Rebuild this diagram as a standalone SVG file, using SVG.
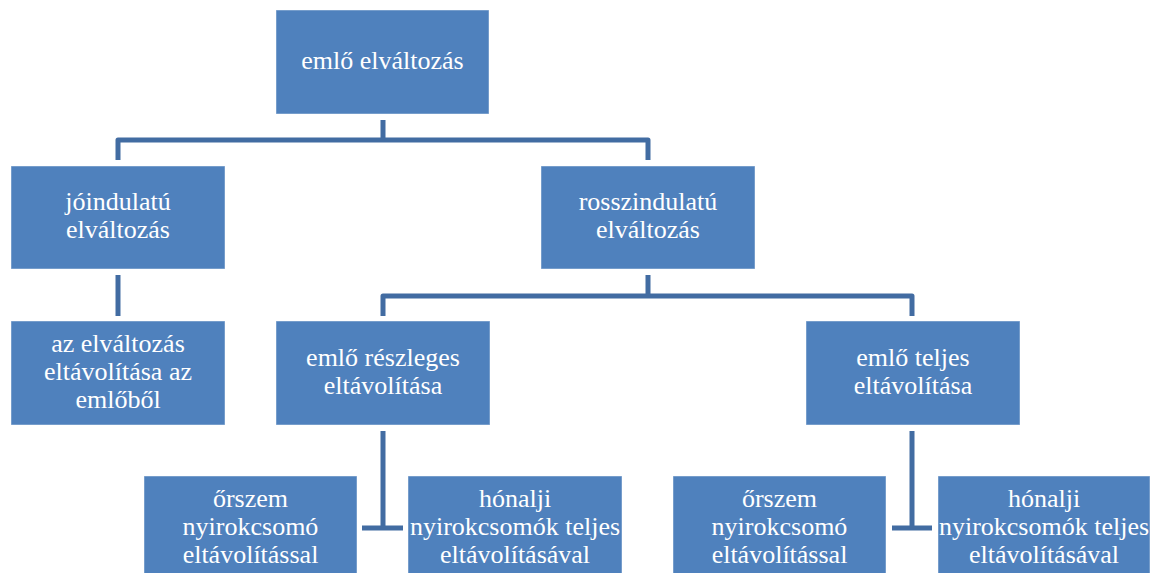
<svg xmlns="http://www.w3.org/2000/svg" width="1154" height="573" viewBox="0 0 1154 573">
<style>
.box{fill:#4F81BD;stroke:#FFFFFF;stroke-opacity:0.45;stroke-width:1}
.t{font-family:'Liberation Serif','Times New Roman',Times,Tinos,'Noto Serif','DejaVu Serif',FreeSerif,serif;font-size:26px;fill:#FFFFFF;text-anchor:middle}
.c{fill:none;stroke:#426CA2;stroke-width:5;stroke-linejoin:round}
</style>
<rect width="1154" height="573" fill="#FFFFFF"/>
<g id="connectors">
<path class="c" d="M383 120V140M118 160V140H648V160"/>
<path class="c" d="M118 275V316"/>
<path class="c" d="M648 275V296M383 316V296H912V316"/>
<path class="c" d="M383 431V528M362 528H403"/>
<path class="c" d="M912 431V528M892 528H932"/>
</g>
<g id="n-root"><rect class="box" x="276" y="10" width="213" height="104"/><text class="t" x="382.5" y="69">emlő elváltozás</text></g>
<g id="n-jo"><rect class="box" x="11" y="166" width="214" height="103"/><text class="t" x="118" y="210">jóindulatú</text><text class="t" x="118" y="238">elváltozás</text></g>
<g id="n-rossz"><rect class="box" x="541" y="166" width="214" height="103"/><text class="t" x="648" y="210">rosszindulatú</text><text class="t" x="648" y="238">elváltozás</text></g>
<g id="n-eltav"><rect class="box" x="11" y="321" width="214" height="104"/><text class="t" x="118" y="352">az elváltozás</text><text class="t" x="118" y="380">eltávolítása az</text><text class="t" x="118" y="408">emlőből</text></g>
<g id="n-reszleges"><rect class="box" x="276" y="321" width="214" height="104"/><text class="t" x="383" y="366">emlő részleges</text><text class="t" x="383" y="394">eltávolítása</text></g>
<g id="n-teljes"><rect class="box" x="806" y="321" width="214" height="104"/><text class="t" x="913" y="366">emlő teljes</text><text class="t" x="913" y="394">eltávolítása</text></g>
<g id="n-orszem1"><rect class="box" x="144" y="476" width="213" height="104"/><text class="t" x="250.5" y="507">őrszem</text><text class="t" x="250.5" y="535">nyirokcsomó</text><text class="t" x="250.5" y="563">eltávolítással</text></g>
<g id="n-honalji1"><rect class="box" x="408" y="476" width="214" height="104"/><text class="t" x="515" y="507">hónalji</text><text class="t" x="515" y="535">nyirokcsomók teljes</text><text class="t" x="515" y="563">eltávolításával</text></g>
<g id="n-orszem2"><rect class="box" x="673" y="476" width="213" height="104"/><text class="t" x="779.5" y="507">őrszem</text><text class="t" x="779.5" y="535">nyirokcsomó</text><text class="t" x="779.5" y="563">eltávolítással</text></g>
<g id="n-honalji2"><rect class="box" x="938" y="476" width="212" height="104"/><text class="t" x="1044" y="507">hónalji</text><text class="t" x="1044" y="535">nyirokcsomók teljes</text><text class="t" x="1044" y="563">eltávolításával</text></g>
</svg>
